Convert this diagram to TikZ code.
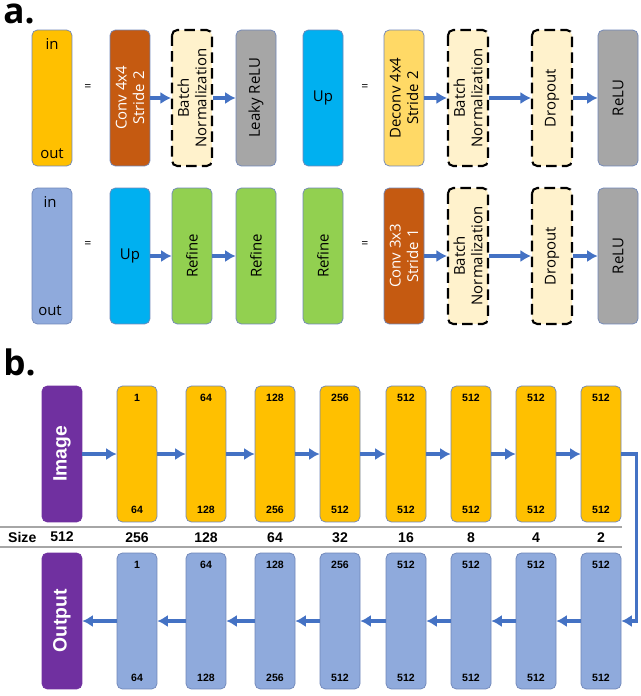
\documentclass[tikz,border=0pt]{standalone}
\usepackage{fontspec}
\setmainfont{Open Sans}
\newfontfamily\arialf{Liberation Sans}
\usetikzlibrary{arrows.meta}
\definecolor{encC}{HTML}{FFC000}
\definecolor{decC}{HTML}{8FAADC}
\definecolor{imgC}{HTML}{7030A0}
\definecolor{arrC}{HTML}{4472C4}
\definecolor{convC}{HTML}{C55A11}
\definecolor{upC}{HTML}{00B0F0}
\definecolor{refC}{HTML}{92D050}
\definecolor{reluC}{HTML}{A6A6A6}
\definecolor{bnC}{HTML}{FFF2CC}
\definecolor{dcvC}{HTML}{FFD966}
\definecolor{edgeC}{HTML}{6F86B8}
\tikzset{
  box/.style={draw=edgeC, rounded corners=3pt, minimum width=0.8cm, minimum height=2.72cm, inner sep=0pt},
  rbox/.style={box, rotate=90, minimum width=2.72cm, minimum height=0.8cm, align=center, font=\fontsize{8.5}{10}\selectfont},
  dbox/.style={rbox, draw=black, very thick, dash pattern=on 6pt off 3pt, fill=bnC},
  arr/.style={-{Latex[length=6pt,width=7pt]}, arrC, line width=2pt},
  small/.style={font=\arialf\bfseries\fontsize{6}{7}\selectfont},
  size/.style={font=\arialf\bfseries\fontsize{8}{9}\selectfont},
  eq/.style={font=\fontsize{7}{8}\selectfont},
  lbl/.style={font=\fontsize{8.5}{9}\selectfont},
}
\begin{document}
\begin{tikzpicture}[x=0.02cm, y=-0.02cm]
\useasboundingbox (0,0) rectangle (640,696);
%a.
\node[font=\fontsize{20}{20}\selectfont\bfseries, anchor=north west, inner sep=0pt] (la) at (3,4) {a.};

%encoder block
\node[box, fill=encC] (enc) at (52,98) {};
\node[lbl] at (52,44) {in};
\node[lbl] at (52,154) {out};
\node[eq] (eq1) at (88,88) {=};
\node[rbox, fill=convC, text=white] (conv4) at (130,98) {Conv 4x4\\Stride 2};
\node[dbox] (bn1) at (192,98) {Batch\\Normalization};
\node[rbox, fill=reluC] (lrelu) at (256,98) {Leaky ReLU};
\draw[arr] (conv4) -- (bn1);
\draw[arr] (bn1) -- (lrelu);

%up block
\node[box, fill=upC, lbl] (up) at (323,98) {Up};
\node[eq] (eq2) at (365,88) {=};
\node[rbox, fill=dcvC] (dconv) at (404,98) {Deconv 4x4\\Stride 2};
\node[dbox] (bn2) at (468,98) {Batch\\Normalization};
\node[dbox] (drop1) at (552,98) {Dropout};
\node[rbox, fill=reluC] (relu1) at (618,98) {ReLU};
\draw[arr] (dconv) -- (bn2);
\draw[arr] (bn2) -- (drop1);
\draw[arr] (drop1) -- (relu1);

%decoder block
\node[box, fill=decC] (dec) at (52,256) {};
\node[lbl] at (50,202) {in};
\node[lbl] at (50,311) {out};
\node[eq] (eq3) at (88,245) {=};
\node[box, fill=upC, lbl] (up2) at (130,256) {Up};
\node[rbox, fill=refC] (ref1) at (192,256) {Refine};
\node[rbox, fill=refC] (ref2) at (256,256) {Refine};
\draw[arr] (up2) -- (ref1);
\draw[arr] (ref1) -- (ref2);

%refine block
\node[rbox, fill=refC] (ref) at (323,256) {Refine};
\node[eq] (eq4) at (365,245) {=};
\node[rbox, fill=convC, text=white] (conv3) at (404,256) {Conv 3x3\\Stride 1};
\node[dbox] (bn3) at (468,256) {Batch\\Normalization};
\node[dbox] (drop2) at (552,256) {Dropout};
\node[rbox, fill=reluC] (relu2) at (618,256) {ReLU};
\draw[arr] (conv3) -- (bn3);
\draw[arr] (bn3) -- (drop2);
\draw[arr] (drop2) -- (relu2);

%b.
\node[font=\fontsize{20}{20}\selectfont\bfseries, anchor=north west, inner sep=0pt] (lb) at (3,348) {b.};
\node[box, fill=imgC, draw=imgC] (img) at (62,454) {};
\node[rotate=90, text=white, font=\arialf\bfseries\fontsize{11}{12}\selectfont] at (img) {Image};
\node[box, fill=imgC, draw=imgC] (out) at (62,621) {};
\node[rotate=90, text=white, font=\arialf\bfseries\fontsize{11}{12}\selectfont] at (out) {Output};

\draw[gray!70, line width=1pt] (0,527) -- (622,527);
\draw[gray!70, line width=1pt] (0,547) -- (622,547);
\node[size, anchor=west] at (2,537) {Size};
\node[size] at (62,537) {512};

\foreach \i/\xc/\cin/\cout/\sz in {1/137/1/64/256, 2/206/64/128/128, 3/275/128/256/64, 4/340/256/512/32,
  5/406/512/512/16, 6/471/512/512/8, 7/536/512/512/4, 8/601/512/512/2}{
  \node[box, fill=encC] (e\i) at (\xc,454) {};
  \node[small] at (\xc,398) {\cin};
  \node[small] at (\xc,510) {\cout};
  \node[box, fill=decC] (d\i) at (\xc,621) {};
  \node[small] at (\xc,565) {\cin};
  \node[small] at (\xc,678) {\cout};
  \node[size] at (\xc,538) {\sz};
}
\draw[arr] (img) -- (e1);
\draw[arr] (d1) -- (out);
\foreach \a/\b in {1/2,2/3,3/4,4/5,5/6,6/7,7/8}{
  \draw[arr] (e\a) -- (e\b);
  \draw[arr] (d\b) -- (d\a);
}
\draw[arr] (e8.east) -- ++(15,0) |- (d8.east);
\end{tikzpicture}
\end{document}
